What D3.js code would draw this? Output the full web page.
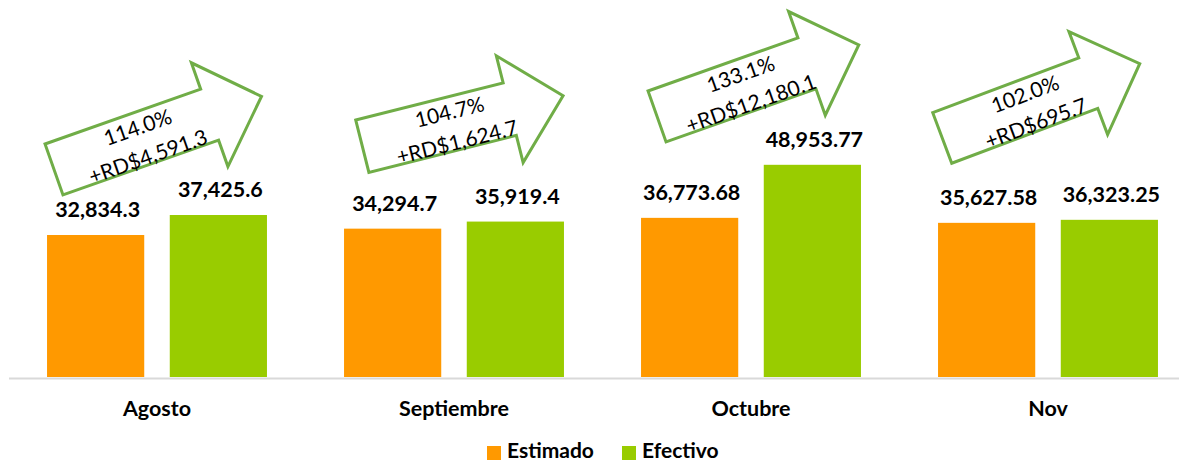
<!DOCTYPE html>
<html>
<head>
<meta charset="utf-8">
<script src="https://cdn.jsdelivr.net/npm/d3@7"></script>
<style>
  html, body { margin: 0; padding: 0; background: #fff; }
  svg { display: block; }
  text { font-family: Lato, "Open Sans", sans-serif; }
</style>
</head>
<body>
<svg id="chart" width="1179" height="462"></svg>
<script>
// ---- data ----
const categories = ["Agosto", "Septiembre", "Octubre", "Nov"];
const seriesNames = ["Estimado", "Efectivo"];
const estimado = [32834.3, 34294.7, 36773.68, 35627.58];
const efectivo = [37425.6, 35919.4, 48953.77, 36323.25];
const decimals = [1, 1, 2, 2];
const pctLabels = ["114.0%", "104.7%", "133.1%", "102.0%"];
const diffLabels = ["+RD$4,591.3", "+RD$1,624.7", "+RD$12,180.1", "+RD$695.7"];

// ---- layout / style ----
const W = 1179, H = 462;
const colors = { Estimado: "#FF9900", Efectivo: "#99CC00" };
const arrowStroke = "#70AD47";
// arrow annotation placement (offset from the category's first bar, absolute y, rotation, shaft length)
const arrowLayout = [
  { dx: -2,   y: 144,   angle: 19.4, len: 165 },
  { dx: 11.7, y: 120,   angle: 14.1, len: 152 },
  { dx: 7,    y: 91,    angle: 19.5, len: 159 },
  { dx: -5.3, y: 112.7, angle: 20.6, len: 156 }
];

const svg = d3.select("#chart");

const x = d3.scaleBand().domain(categories).range([8.5, 1196.5]).paddingInner(0).paddingOuter(0);
const xs = d3.scaleBand().domain(seriesNames).range([0, x.bandwidth()]).paddingInner(0.208).paddingOuter(0.314);
const y = d3.scaleLinear().domain([0, 60000]).range([378, 378 - 60000 * 0.004355]);

const rows = categories.map((c, i) => ({
  cat: c, i,
  vals: [
    { s: "Estimado", v: estimado[i] },
    { s: "Efectivo", v: efectivo[i] }
  ]
}));

// axis
const axisG = svg.append("g").attr("transform", `translate(0,${y(0)})`)
  .call(d3.axisBottom(x).tickSize(0).tickPadding(0));
axisG.select(".domain").attr("stroke", "#D9D9D9").attr("stroke-width", 2);
axisG.selectAll(".tick text")
  .attr("y", 38)
  .attr("dy", 0)
  .style("font-family", "Lato, sans-serif")
  .style("font-size", "21.5px")
  .style("font-weight", "bold")
  .attr("fill", "#000");

// bars
const g = svg.selectAll("g.cat").data(rows).enter().append("g")
  .attr("class", "cat")
  .attr("transform", d => `translate(${x(d.cat)},0)`);

g.selectAll("rect").data(d => d.vals).enter().append("rect")
  .attr("x", d => xs(d.s))
  .attr("width", xs.bandwidth())
  .attr("y", d => y(d.v))
  .attr("height", d => y(0) - y(d.v) - 1)
  .attr("fill", d => colors[d.s]);

g.selectAll("text.val").data(d => d.vals.map(v => ({...v, dec: decimals[d.i]}))).enter().append("text")
  .attr("class", "val")
  .attr("x", d => xs(d.s) + xs.bandwidth() / 2 + 2)
  .attr("y", d => y(d.v) - 18)
  .attr("text-anchor", "middle")
  .style("font-size", "21.5px")
  .style("font-weight", "bold")
  .attr("fill", "#000")
  .text(d => d3.format(`,.${d.dec}f`)(d.v));

// arrows
const arrowG = svg.selectAll("g.arrow").data(rows).enter().append("g")
  .attr("class", "arrow")
  .attr("transform", d => {
    const a = arrowLayout[d.i];
    const tx = x(d.cat) + xs("Estimado") + a.dx;
    return `translate(${tx},${a.y}) rotate(${-a.angle})`;
  });

const shaftW = 54, over = 28, headL = 55;
arrowG.append("path")
  .attr("d", d => {
    const S = arrowLayout[d.i].len;
    const pts = [[0, 0], [S, 0], [S, -over], [S + headL, shaftW / 2], [S, shaftW + over], [S, shaftW], [0, shaftW]];
    return d3.line()(pts) + "Z";
  })
  .attr("fill", "#fff")
  .attr("stroke", arrowStroke)
  .attr("stroke-width", 3)
  .attr("stroke-linejoin", "miter");

arrowG.append("text")
  .attr("x", 93).attr("y", 14)
  .attr("text-anchor", "middle")
  .attr("dominant-baseline", "central")
  .style("font-size", "21px")
  .attr("fill", "#000")
  .text(d => pctLabels[d.i]);

arrowG.append("text")
  .attr("x", 93).attr("y", 45)
  .attr("text-anchor", "middle")
  .attr("dominant-baseline", "central")
  .style("font-size", "21px")
  .attr("fill", "#000")
  .text(d => diffLabels[d.i]);

// legend
const legend = svg.append("g");
const legendItems = [
  { s: "Estimado", x: 487 },
  { s: "Efectivo", x: 622 }
];
const li = legend.selectAll("g").data(legendItems).enter().append("g")
  .attr("transform", d => `translate(${d.x},446)`);
li.append("rect").attr("width", 14).attr("height", 14).attr("fill", d => colors[d.s]);
li.append("text")
  .attr("x", 20).attr("y", 12)
  .style("font-size", "21px")
  .style("font-weight", "bold")
  .attr("fill", "#000")
  .text(d => d.s);
</script>
</body>
</html>
